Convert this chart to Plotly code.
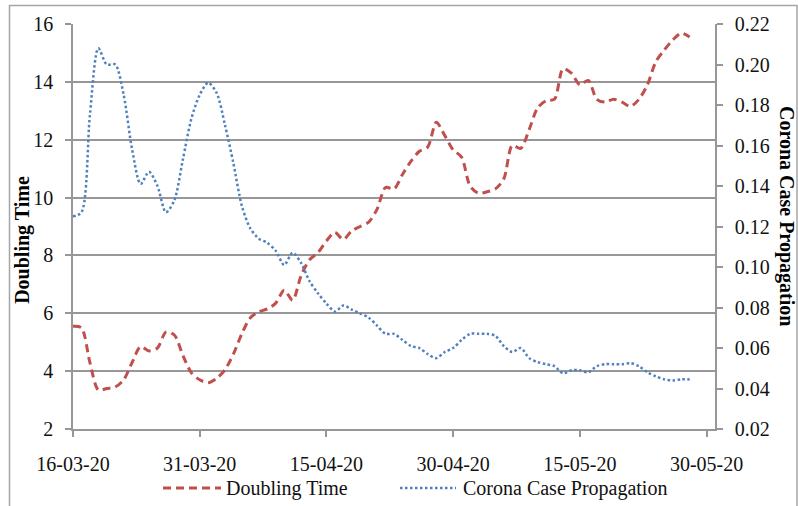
import pandas as pd
import plotly.graph_objects as go

# Daily series, 16-03-2020 onwards
doubling_time = [
    5.55, 5.50, 4.30, 3.35, 3.40, 3.45, 3.70, 4.30, 4.85, 4.70,
    4.80, 5.35, 5.25, 4.55, 3.95, 3.70, 3.60, 3.75, 4.05, 4.60,
    5.30, 5.85, 6.05, 6.15, 6.35, 6.80, 6.45, 7.30, 7.85, 8.10,
    8.50, 8.80, 8.55, 8.85, 9.00, 9.15, 9.60, 10.35, 10.30, 10.80,
    11.25, 11.60, 11.75, 12.60, 12.15, 11.65, 11.40, 10.40, 10.15, 10.20,
    10.30, 10.65, 11.80, 11.70, 12.35, 13.10, 13.35, 13.40, 14.45, 14.30,
    13.90, 14.05, 13.40, 13.30, 13.40, 13.30, 13.15, 13.40, 13.90, 14.70,
    15.10, 15.45, 15.68, 15.55,
]

case_propagation = [
    0.125, 0.127, 0.175, 0.208, 0.200, 0.200, 0.185, 0.158, 0.141, 0.147,
    0.140, 0.127, 0.133, 0.153, 0.173, 0.185, 0.191, 0.186, 0.170, 0.151,
    0.130, 0.119, 0.114, 0.112, 0.108, 0.101, 0.107, 0.102, 0.093, 0.087,
    0.082, 0.078, 0.081, 0.079, 0.077, 0.075, 0.071, 0.067, 0.067, 0.064,
    0.061, 0.060, 0.057, 0.055, 0.058, 0.060, 0.064, 0.067, 0.067, 0.067,
    0.066, 0.061, 0.058, 0.060, 0.055, 0.053, 0.052, 0.051, 0.0475, 0.049,
    0.049, 0.048, 0.051, 0.052, 0.052, 0.052, 0.0525, 0.051, 0.048, 0.046,
    0.0445, 0.044, 0.0445, 0.0445,
]

dates = pd.date_range("2020-03-16", periods=len(doubling_time), freq="D")

x_ticks = ["2020-03-16", "2020-03-31", "2020-04-15", "2020-04-30", "2020-05-15", "2020-05-30"]

RED = "#C0504D"
BLUE = "#4F81BD"
GRID = "#979797"
FONT = "Liberation Serif"
TXT = "#111111"

fig = go.Figure()
fig.add_trace(go.Scatter(
    x=dates, y=doubling_time, name="Doubling Time", mode="lines",
    line=dict(color=RED, width=3, dash="8px,5px", shape="spline", smoothing=0.8),
    yaxis="y",
))
fig.add_trace(go.Scatter(
    x=dates, y=case_propagation, name="Corona Case Propagation", mode="lines",
    line=dict(color=BLUE, width=2.5, dash="2.5px,2.5px", shape="spline", smoothing=0.8),
    yaxis="y2",
))

fig.update_layout(
    width=798, height=506,
    margin=dict(l=73, r=83, t=24, b=77),
    paper_bgcolor="white", plot_bgcolor="white",
    showlegend=False,
    font=dict(family=FONT, size=20, color=TXT),
    xaxis=dict(
        type="date", range=["2020-03-16", "2020-05-31"],
        tickvals=x_ticks, tickformat="%d-%m-%y",
        showgrid=False, showline=True, linecolor=GRID, linewidth=1.5,
        ticks="outside", ticklen=6, tickcolor=GRID, tickwidth=1.5,
        tickfont=dict(family=FONT, size=20, color=TXT),
        ticklabelstandoff=10,
        zeroline=False,
    ),
    yaxis=dict(
        range=[2, 16], dtick=2, tick0=2,
        showgrid=True, gridcolor=GRID, gridwidth=1.5,
        showline=True, linecolor=GRID, linewidth=1.5,
        ticks="outside", ticklen=6, tickcolor=GRID, tickwidth=1.5,
        tickfont=dict(family=FONT, size=20, color=TXT),
        ticklabelstandoff=8,
        zeroline=False,
    ),
    yaxis2=dict(
        range=[0.02, 0.22], dtick=0.02, tick0=0.02, tickformat=".2f",
        overlaying="y", side="right",
        showgrid=False, showline=True, linecolor=GRID, linewidth=1.5,
        ticks="outside", ticklen=6, tickcolor=GRID, tickwidth=1.5,
        tickfont=dict(family=FONT, size=20, color=TXT),
        ticklabelstandoff=8,
        zeroline=False,
    ),
)

# Axis titles
fig.add_annotation(
    text="<b>Doubling Time</b>", xref="paper", yref="paper",
    x=(23 - 73) / 642, y=0.467, xanchor="center", yanchor="middle",
    textangle=-90, showarrow=False,
    font=dict(family=FONT, size=20, color="black"),
)
fig.add_annotation(
    text="<b>Corona Case Propagation</b>", xref="paper", yref="paper",
    x=(786 - 73) / 642, y=0.526, xanchor="center", yanchor="middle",
    textangle=90, showarrow=False,
    font=dict(family=FONT, size=20, color="black"),
)

# Legend row beneath the date axis
leg_y = (429 - 488) / 405
fig.add_shape(type="line", xref="paper", yref="paper",
              x0=(163 - 73) / 642, x1=(221 - 73) / 642, y0=leg_y, y1=leg_y,
              line=dict(color=RED, width=3, dash="8px,5px"))
fig.add_annotation(text="Doubling Time", xref="paper", yref="paper",
                   x=(224 - 73) / 642, y=leg_y, xanchor="left", yanchor="middle",
                   showarrow=False, font=dict(family=FONT, size=20, color=TXT))
fig.add_shape(type="line", xref="paper", yref="paper",
              x0=(400 - 73) / 642, x1=(456 - 73) / 642, y0=leg_y, y1=leg_y,
              line=dict(color=BLUE, width=2.5, dash="2.5px,2.5px"))
fig.add_annotation(text="Corona Case Propagation", xref="paper", yref="paper",
                   x=(461 - 73) / 642, y=leg_y, xanchor="left", yanchor="middle",
                   showarrow=False, font=dict(family=FONT, size=20, color=TXT))

# Chart-area frame
fig.add_shape(type="rect", xref="paper", yref="paper",
              x0=(9.5 - 73) / 642, x1=(797 - 73) / 642,
              y0=(429 - 520) / 405, y1=(429 - 5.5) / 405,
              line=dict(color="#A6A6A6", width=1.5), fillcolor="rgba(0,0,0,0)",
              layer="below")

fig.write_html("out.html")
